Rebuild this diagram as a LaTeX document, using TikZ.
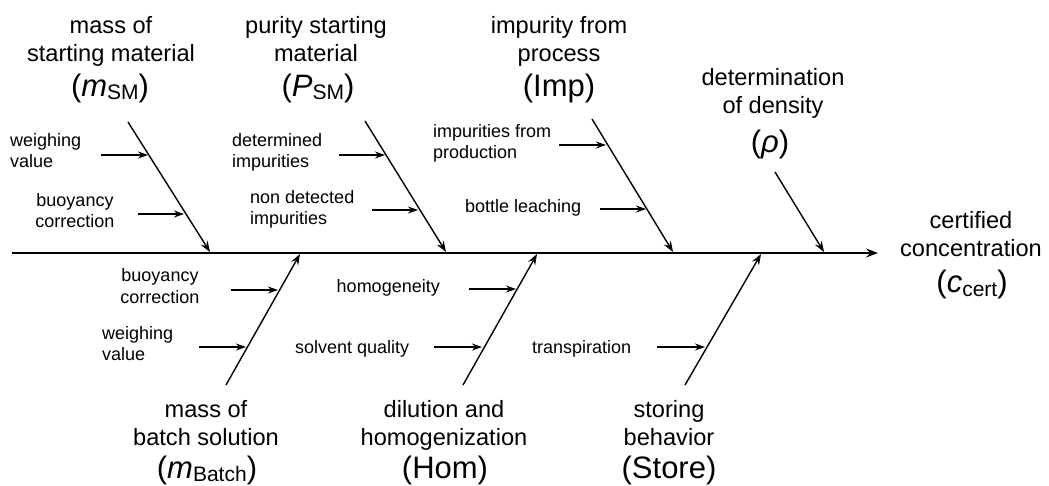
\documentclass[tikz,border=0pt]{standalone}
\usepackage{fontspec}
\setmainfont{Liberation Sans}
\usetikzlibrary{arrows.meta,calc}
\newcommand\subs[1]{\raisebox{-3pt}{\fontsize{21}{21}\selectfont #1}}
\begin{document}
\begin{tikzpicture}[x=1pt,y=-1pt,
  spine/.style={line width=1.8pt,-{Stealth[length=12pt,width=9pt,inset=4.5pt]}},
  bone/.style={line width=1.4pt,-{Stealth[length=11pt,width=8pt,inset=4pt]}},
  twig/.style={line width=1.2pt,-{Stealth[length=10pt,width=7pt,inset=3.5pt]}},
  small/.style={font=\fontsize{18}{21}\selectfont,inner sep=0pt},
  head/.style={font=\fontsize{23.6}{28}\selectfont,inner sep=0pt,align=center,anchor=base},
  sym/.style={font=\fontsize{31}{36}\selectfont,inner sep=0pt,anchor=base}]
\useasboundingbox (0,0) rectangle (1049,486);

% spine
\coordinate (s0) at (12,253);
\coordinate (s1) at (878,253);
\draw[spine] (s0) -- (s1);

% upper bones
\coordinate (u1s) at (128,122); \coordinate (u1e) at (210,252);
\coordinate (u2s) at (365,121); \coordinate (u2e) at (446,252);
\coordinate (u3s) at (592,119); \coordinate (u3e) at (673,252);
\coordinate (u4s) at (775,172); \coordinate (u4e) at (824,252);
\draw[bone] (u1s) -- (u1e);
\draw[bone] (u2s) -- (u2e);
\draw[bone] (u3s) -- (u3e);
\draw[bone] (u4s) -- (u4e);

% lower bones
\coordinate (l1s) at (226,385); \coordinate (l1e) at (300,254);
\coordinate (l2s) at (463,385); \coordinate (l2e) at (537,254);
\coordinate (l3s) at (685,385); \coordinate (l3e) at (761,254);
\draw[bone] (l1s) -- (l1e);
\draw[bone] (l2s) -- (l2e);
\draw[bone] (l3s) -- (l3e);

% twigs
\coordinate (a1t) at (101,155); \coordinate (a1h) at (148,155);
\coordinate (a2t) at (138,214); \coordinate (a2h) at (184,214);
\coordinate (a3t) at (339,155); \coordinate (a3h) at (385,155);
\coordinate (a4t) at (372,210); \coordinate (a4h) at (418,210);
\coordinate (a5t) at (559,145); \coordinate (a5h) at (606,145);
\coordinate (a6t) at (600,209); \coordinate (a6h) at (646,209);
\coordinate (b1t) at (231,290); \coordinate (b1h) at (278,290);
\coordinate (b2t) at (199,347); \coordinate (b2h) at (246,347);
\coordinate (b3t) at (469,289); \coordinate (b3h) at (516,289);
\coordinate (b4t) at (434,347); \coordinate (b4h) at (482,347);
\coordinate (b5t) at (657,347); \coordinate (b5h) at (705,347);
\foreach \n in {a1,a2,a3,a4,a5,a6,b1,b2,b3,b4,b5}
  \draw[twig] (\n t) -- (\n h);

% headers (base = baseline of last line)
\node[head] (hSM) at (111,62) {mass of\\starting material};
\node[sym] (ySM) at (110,97) {(\textit{m}\subs{SM})};
\node[head] (hP) at (316,62) {purity starting\\material};
\node[sym] (yP) at (318,97) {(\textit{P}\subs{SM})};
\node[head] (hImp) at (559,62) {impurity from\\process};
\node[sym] (yImp) at (559,97) {(Imp)};
\node[head] (hRho) at (773,114) {determination\\of density};
\node[sym] (yRho) at (770,153) {(\textit{ρ})};
\node[head] (hC) at (971,257) {certified\\concentration};
\node[sym] (yC) at (972,293) {(\textit{c}\subs{cert})};
\node[head] (hB) at (206,445) {mass of\\batch solution};
\node[sym] (yB) at (207,478) {(\textit{m}\subs{Batch})};
\node[head] (hH) at (444,445) {dilution and\\homogenization};
\node[sym] (yH) at (445,478) {(Hom)};
\node[head] (hS) at (669,445) {storing\\behavior};
\node[sym] (yS) at (669,478) {(Store)};

% small labels
\node[small,anchor=base west,align=left] (w1) at (10,168) {weighing\\value};
\node[small,anchor=base,align=center] (c1) at (75,228) {buoyancy\\correction};
\node[small,anchor=base west,align=left] (d1) at (232,168) {determined\\impurities};
\node[small,anchor=base west,align=left] (n1) at (250,225) {non detected\\impurities};
\node[small,anchor=base west,align=left] (p1) at (433,159) {impurities from\\production};
\node[small,anchor=base west] (bl) at (465,213) {bottle leaching};
\node[small,anchor=base,align=center] (c2) at (160,303) {buoyancy\\correction};
\node[small,anchor=base west,align=left] (w2) at (102,360) {weighing\\value};
\node[small,anchor=base east] (hg) at (440,293) {homogeneity};
\node[small,anchor=base west] (sq) at (295,353) {solvent quality};
\node[small,anchor=base west] (tr) at (532,353) {transpiration};
\end{tikzpicture}
\end{document}
